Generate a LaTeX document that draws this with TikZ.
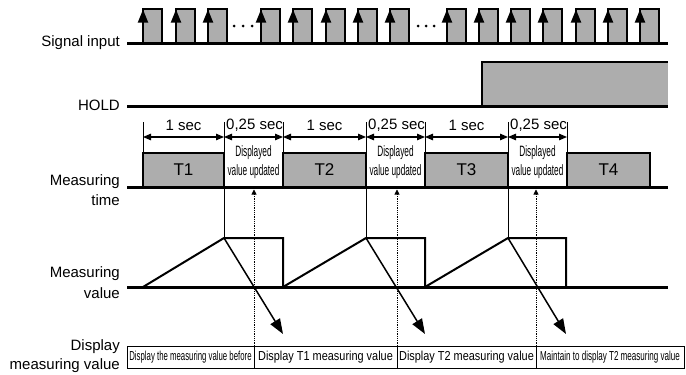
\documentclass[tikz,border=0pt]{standalone}
\usepackage{fontspec}
\setmainfont{Liberation Sans}
\usepackage{graphicx}
\usetikzlibrary{arrows.meta}
\definecolor{pgray}{RGB}{173,173,173}
\tikzset{
  sigline/.style={line width=3pt},
  pulsebox/.style={fill=pgray, draw=black, line width=1.4pt},
  uparrow/.style={line width=1.8pt, -{Triangle[length=13pt,width=10pt]}},
  edgeline/.style={line width=1.7pt},
  tbox/.style={fill=pgray, draw=black, line width=1.5pt},
  hair/.style={line width=0.8pt},
  dimarrow/.style={line width=1.2pt, {Triangle[length=8pt,width=6.5pt]}-{Triangle[length=8pt,width=6.5pt]}},
  wave/.style={line width=2pt},
  diagarrow/.style={line width=1.5pt, -{Triangle[length=15pt,width=11pt]}},
  dotarrow/.style={line width=0.8pt, densely dotted, -{Triangle[length=5pt,width=5pt]}},
  dbox/.style={draw=black, line width=1pt},
  lab/.style={anchor=east, align=right, inner sep=0pt},
  secfont/.style={font=\fontsize{15}{16}\selectfont, inner sep=0pt},
  tfont/.style={font=\fontsize{17}{18}\selectfont, inner sep=0pt},
  updfont/.style={font=\fontsize{15}{19}\selectfont, align=center, inner sep=0pt},
  cellfont/.style={font=\fontsize{13}{14}\selectfont, inner sep=0pt},
}
\begin{document}
\begin{tikzpicture}[x=1pt,y=-1pt]
\useasboundingbox (0,0) rectangle (686,375);

% ---------- left labels
\node[lab, font=\fontsize{15}{16}\selectfont] (lsig) at (120,43) {Signal input};
\node[lab, font=\fontsize{15}{16}\selectfont] (lhold) at (120,105) {HOLD};
\node[lab, font=\fontsize{15}{20}\selectfont] (ltime) at (120,190) {Measuring\\time};
\node[lab, font=\fontsize{15}{21}\selectfont] (lval) at (120,282.5) {Measuring\\value};
\node[lab, font=\fontsize{15}{19}\selectfont] (ldisp) at (120,356.5) {Display\\measuring value};

% ---------- signal input
\foreach \p in {143,176,208,261,293,326,358,390,447,479,511,543,576,608,640}{
  \draw[pulsebox] (\p,43) rectangle ++(19,-34);
  \draw[uparrow] (\p,43) -- (\p,9.5);
}
\draw[sigline] (127,43) -- (668,43);
\foreach \d in {234,243,252,418,426,434} \fill (\d,26) circle (1.5);

% ---------- HOLD
\fill[pgray] (482,106) rectangle (668,62);
\draw[edgeline] (482,106) -- (482,62) -- (668,62);
\draw[sigline] (127,106) -- (668,106);

% ---------- measuring time
\foreach \a/\b/\t in {143/224/T1,283/366/T2,425/508/T3,567/650/T4}{
  \draw[tbox] (\a,187) rectangle (\b,153);
  \node[tfont] (\t) at ({(\a+\b)/2},170) {\t};
}
\foreach \x/\n in {253.5/u1,395.5/u2,537.5/u3}
  \node[updfont] (\n) at (\x,162.5) {\scalebox{0.55}[1]{Displayed}\\\scalebox{0.55}[1]{value updated}};
\draw[sigline] (127,187) -- (668,187);

\foreach \x in {143,283,425,567} \draw[hair] (\x,122) -- (\x,153);
\foreach \x in {224,366,508} \draw[hair] (\x,122) -- (\x,238);
\foreach \a/\b in {143/224,224/283,283/366,366/425,425/508,508/567}
  \draw[dimarrow] (\a,137) -- (\b,137);
\foreach \x/\n in {183.5/s1,324.5/s2,466.5/s3}
  \node[secfont] (\n) at (\x,125) {1 sec};
\foreach \x/\n in {226/q1,368/q2,510/q3}
  \node[secfont, anchor=west] (\n) at (\x,125) {0,25 sec};

% ---------- measuring value
\draw[sigline] (127,287) -- (668,287);
\draw[wave] (143,287) -- (224,238) -- (283,238) -- (283,287);
\draw[wave] (283,287) -- (366,238) -- (425,238) -- (425,287);
\draw[wave] (425,287) -- (508,238) -- (566,238) -- (566,287);
\draw[diagarrow] (224,238) -- (283,334);
\draw[diagarrow] (366,238) -- (425,334);
\draw[diagarrow] (508,238) -- (566,334);

% ---------- display row
\foreach \x in {254,397,536} \draw[dotarrow] (\x,346) -- (\x,189.5);
\draw[dbox] (127,346) rectangle (684,368);
\foreach \x in {254,397,536} \draw[dbox] (\x,346) -- (\x,368);
\node[cellfont] (c1) at (190.5,357) {\scalebox{0.6}[1]{Display the measuring value before}};
\node[cellfont] (c2) at (325.5,357) {\scalebox{0.84}[1]{Display T1 measuring value}};
\node[cellfont] (c3) at (466.5,357) {\scalebox{0.84}[1]{Display T2 measuring value}};
\node[cellfont] (c4) at (610,357) {\scalebox{0.62}[1]{Maintain to display T2 measuring value}};
\end{tikzpicture}
\end{document}
